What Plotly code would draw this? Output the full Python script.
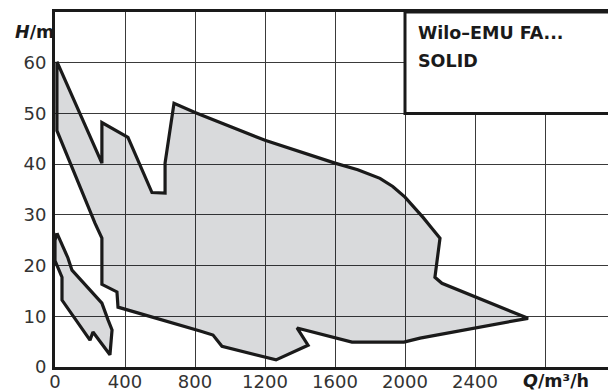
import plotly.graph_objects as go

# Main operating field boundary (Q in m³/h, H in m)
q_main = [11, 268, 268, 417, 554, 629, 629, 680, 800, 1200, 1600, 1730, 1857, 1930, 2000, 2050,
          2103, 2150, 2200, 2171, 2211, 2703, 2086, 1994, 1697, 1383, 1446, 1263, 954, 903, 829,
          360, 354, 268, 268, 229, 11, 11]
h_main = [60.2, 40.2, 48.2, 45.3, 34.4, 34.3, 40.2, 52, 50.2, 44.7, 40.2, 38.9, 37.2, 35.6, 33.5, 31.6,
          29.5, 27.5, 25.4, 17.7, 16.5, 9.6, 5.7, 4.9, 4.9, 7.7, 4.3, 1.4, 4.1, 6.3, 7.1,
          11.8, 14.8, 16.3, 25.4, 28.3, 46.6, 60.2]

# Small operating field boundary
q_small = [11, 74, 97, 189, 268, 303, 326, 314, 217, 200, 40, 40, 0, 0, 11]
h_small = [26.4, 21.5, 19.1, 15.7, 12.6, 9.3, 7.3, 2.4, 6.9, 5.3, 13.2, 17.7, 21, 25, 26.4]

x_ticks = [0, 400, 800, 1200, 1600, 2000, 2400, 2800]
x_labels = ["0", "400", "800", "1200", "1600", "2000", "2400", ""]
y_ticks = [0, 10, 20, 30, 40, 50, 60]
y_labels = ["0", "10", "20", "30", "40", "50", "60"]

title_lines = ["Wilo–EMU FA...", "SOLID"]

FONT = "DejaVu Sans"
fill = "rgba(2,8,22,0.15)"
line = dict(color="#1a1a1a", width=3.2)

fig = go.Figure()
for q, h in [(q_main, h_main), (q_small, h_small)]:
    fig.add_trace(go.Scatter(x=q, y=h, mode="lines", fill="toself", fillcolor=fill,
                             line=line, hoverinfo="skip", showlegend=False))

fig.update_layout(
    width=608, height=392,
    margin=dict(l=55, r=0, t=12, b=25),
    paper_bgcolor="white", plot_bgcolor="white",
    font=dict(family=FONT, size=18, color="#333333"),
    showlegend=False,
)
fig.update_xaxes(range=[0, 3160], tickvals=x_ticks, ticktext=x_labels, automargin=False,
                 showgrid=True, gridcolor="#3a3a3a", gridwidth=1.4,
                 showline=True, linecolor="#1a1a1a", linewidth=3, mirror=True,
                 zeroline=False, ticks="", ticklabelstandoff=-4,
                 tickfont=dict(size=18, color="#333"))
fig.update_yaxes(range=[0, 70], tickvals=y_ticks, ticktext=y_labels, automargin=False,
                 showgrid=True, gridcolor="#3a3a3a", gridwidth=1.4,
                 showline=True, linecolor="#1a1a1a", linewidth=3, mirror=False,
                 zeroline=False, ticks="", ticklabelstandoff=2,
                 tickfont=dict(size=18, color="#333"))

# Title box
fig.add_shape(type="rect", xref="x", yref="y", x0=2000, x1=3400, y0=50, y1=70,
              fillcolor="white", line=dict(color="#1a1a1a", width=3), layer="above")
fig.add_annotation(xref="x", yref="y", x=2065, y=65.8, xanchor="left", yanchor="middle",
                   text="<b>" + title_lines[0] + "</b>", showarrow=False,
                   font=dict(family=FONT, size=17.5, color="#1a1a1a"))
fig.add_annotation(xref="x", yref="y", x=2065, y=60.4, xanchor="left", yanchor="middle",
                   text="<b>" + title_lines[1] + "</b>", showarrow=False,
                   font=dict(family=FONT, size=17.5, color="#1a1a1a"))

# Axis titles
fig.add_annotation(xref="paper", yref="y", x=0, y=66, xanchor="right", yanchor="middle",
                   xshift=1, text="<b><i>H</i>/m</b>", showarrow=False,
                   font=dict(family=FONT, size=17.5, color="#1a1a1a"))
fig.add_annotation(xref="x", yref="paper", x=2660, y=0, xanchor="left", yanchor="middle",
                   yshift=-14, text="<b><i>Q</i>/m³/h</b>", showarrow=False,
                   font=dict(family=FONT, size=17.5, color="#1a1a1a"))

fig.write_html("out.html", config={"displayModeBar": False},
               post_script="document.body.style.margin='0';")
